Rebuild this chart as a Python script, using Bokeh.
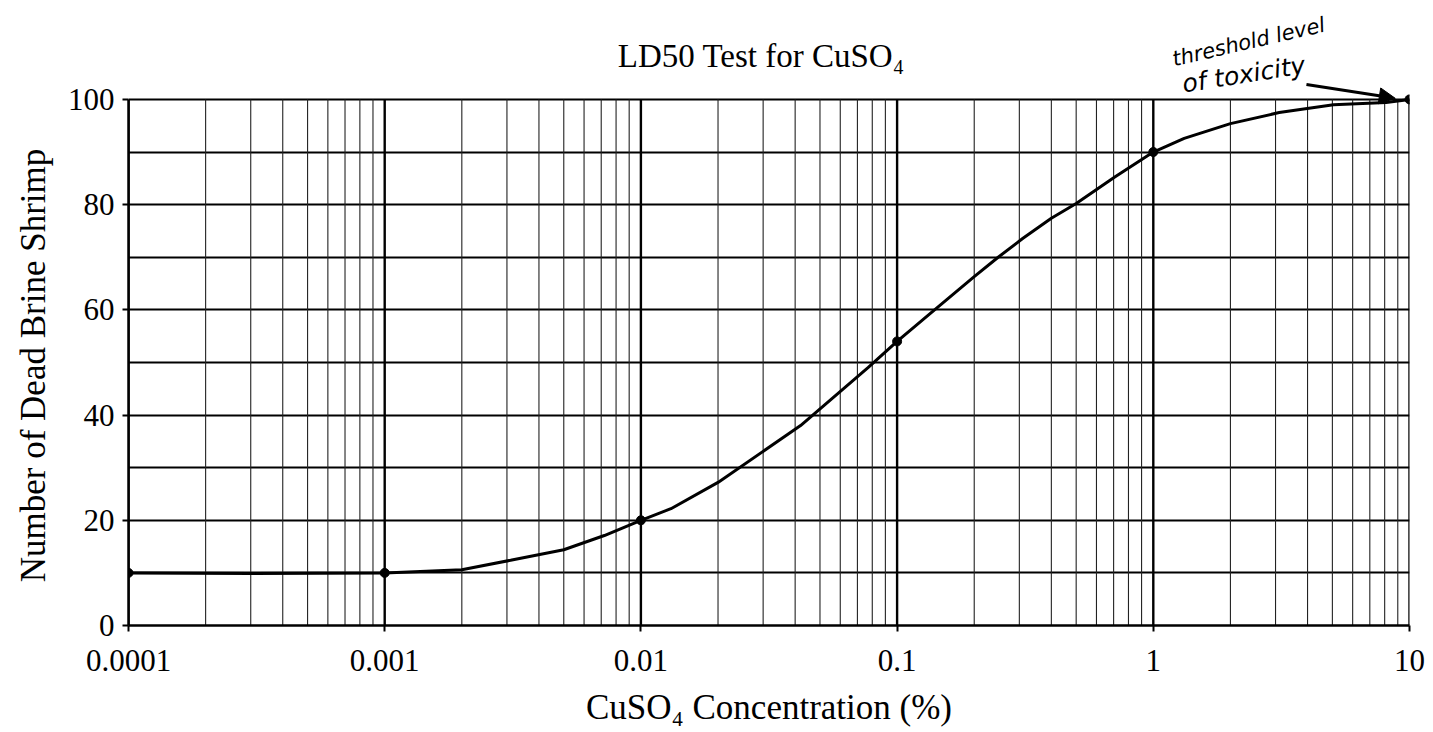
from bokeh.plotting import figure
from bokeh.models import (FixedTicker, LogTicker, PrintfTickFormatter, Label, Arrow,
                          NormalHead, Range1d)
from bokeh.embed import file_html
from bokeh.resources import INLINE

# measured points
conc = [0.0001, 0.001, 0.01, 0.1, 1, 10]
dead = [10, 10, 20, 54, 90, 100]

# hand-drawn smooth curve
curve_x = [0.0001, 0.0003, 0.001, 0.002, 0.0031, 0.005, 0.0072, 0.01, 0.0131, 0.02,
           0.042, 0.077, 0.1, 0.14, 0.2, 0.248, 0.31, 0.4, 0.5, 0.705,
           1, 1.32, 2.0, 3.1, 5.05, 8.1, 10]
curve_y = [10, 9.9, 10, 10.6, 12.4, 14.4, 17.1, 20, 22.2, 27.2,
           38, 49, 54, 60, 66.3, 70, 73.6, 77.4, 80.2, 85.2,
           90, 92.6, 95.4, 97.5, 99, 99.4, 100]

y_major = [0, 20, 40, 60, 80, 100]
y_minor = [10, 30, 50, 70, 90]
decades = [0.0001, 0.001, 0.01, 0.1, 1, 10]
x_minor = [k * d for d in decades[:-1] for k in range(2, 10)]

title_text = "LD50 Test for CuSO\u2084"
note_text = "threshold level"
note_text2 = "of toxicity"
# trailing no-break spaces shift the centred label down to the 0-100 span
y_label = "Number of Dead Brine Shrimp" + "\u00a0" * 12

SERIF = "Liberation Serif"
Y_TOP = 118.8  # frame extends above 100 so the notes can sit there

p = figure(width=1433, height=732, x_axis_type="log",
           x_range=Range1d(0.0001, 10), y_range=Range1d(0, Y_TOP),
           output_backend="svg", toolbar_location=None,
           min_border_left=128, min_border_right=24,
           min_border_top=0, min_border_bottom=107)
p.outline_line_color = None
p.background_fill_color = "white"
p.border_fill_color = "white"

# x axis
p.xaxis.ticker = LogTicker(num_minor_ticks=10)
p.xaxis.formatter = PrintfTickFormatter(format="%g")
p.xaxis.axis_label = "CuSO\u2084 Concentration (%)"
# y axis
p.yaxis.ticker = FixedTicker(ticks=y_major, minor_ticks=y_minor)
p.yaxis.bounds = (0, 100)
p.yaxis.axis_label = y_label

for ax in (p.xaxis, p.yaxis):
    ax.axis_line_color = "black"
    ax.axis_line_width = 2.5
    ax.major_tick_line_color = "black"
    ax.major_tick_line_width = 2
    ax.major_tick_out = 6
    ax.major_tick_in = 0
    ax.minor_tick_line_color = None
    ax.major_label_text_font = SERIF
    ax.major_label_text_font_size = "31px"
    ax.major_label_text_color = "black"
    ax.axis_label_text_font = SERIF
    ax.axis_label_text_font_size = "35px"
    ax.axis_label_text_font_style = "normal"
    ax.axis_label_text_color = "black"
p.xaxis.major_label_standoff = 18
p.xaxis.axis_label_standoff = 14
p.yaxis.major_label_standoff = 8
p.yaxis.axis_label_standoff = 12

# grids: horizontal lines via the grid, vertical lines stop at 100
p.xgrid.visible = False
p.ygrid.ticker = FixedTicker(ticks=y_major + y_minor)
p.ygrid.grid_line_color = "black"
p.ygrid.grid_line_width = 2
p.ygrid.grid_line_alpha = 1

p.segment(x0=x_minor, y0=[0] * len(x_minor), x1=x_minor, y1=[100] * len(x_minor),
          line_color="#222222", line_width=1.1)
p.segment(x0=decades, y0=[0] * len(decades), x1=decades, y1=[100] * len(decades),
          line_color="black", line_width=2.4)

p.line(curve_x, curve_y, line_color="black", line_width=3)
p.scatter(conc, dead, size=9, color="black")

p.add_layout(Label(x=0.0295, y=108.3, text=title_text, text_align="center",
                   text_baseline="alphabetic", text_font=SERIF,
                   text_font_size="33px", text_color="black"))

p.add_layout(Label(x=1.19, y=107.6, text=note_text, angle=13, angle_units="deg",
                   text_font="DejaVu Sans", text_font_style="italic",
                   text_font_size="21px", text_color="black",
                   text_baseline="alphabetic"))
p.add_layout(Label(x=1.3, y=102.9, text=note_text2, angle=9, angle_units="deg",
                   text_font="DejaVu Sans", text_font_style="italic",
                   text_font_size="25px", text_color="black",
                   text_baseline="alphabetic"))
p.add_layout(Arrow(x_start=3.96, y_start=102.85, x_end=8.8, y_end=100.2,
                   line_width=3, line_color="black",
                   end=NormalHead(size=16, fill_color="black", line_color="black")))

open("out.html", "w").write(file_html(p, INLINE))
